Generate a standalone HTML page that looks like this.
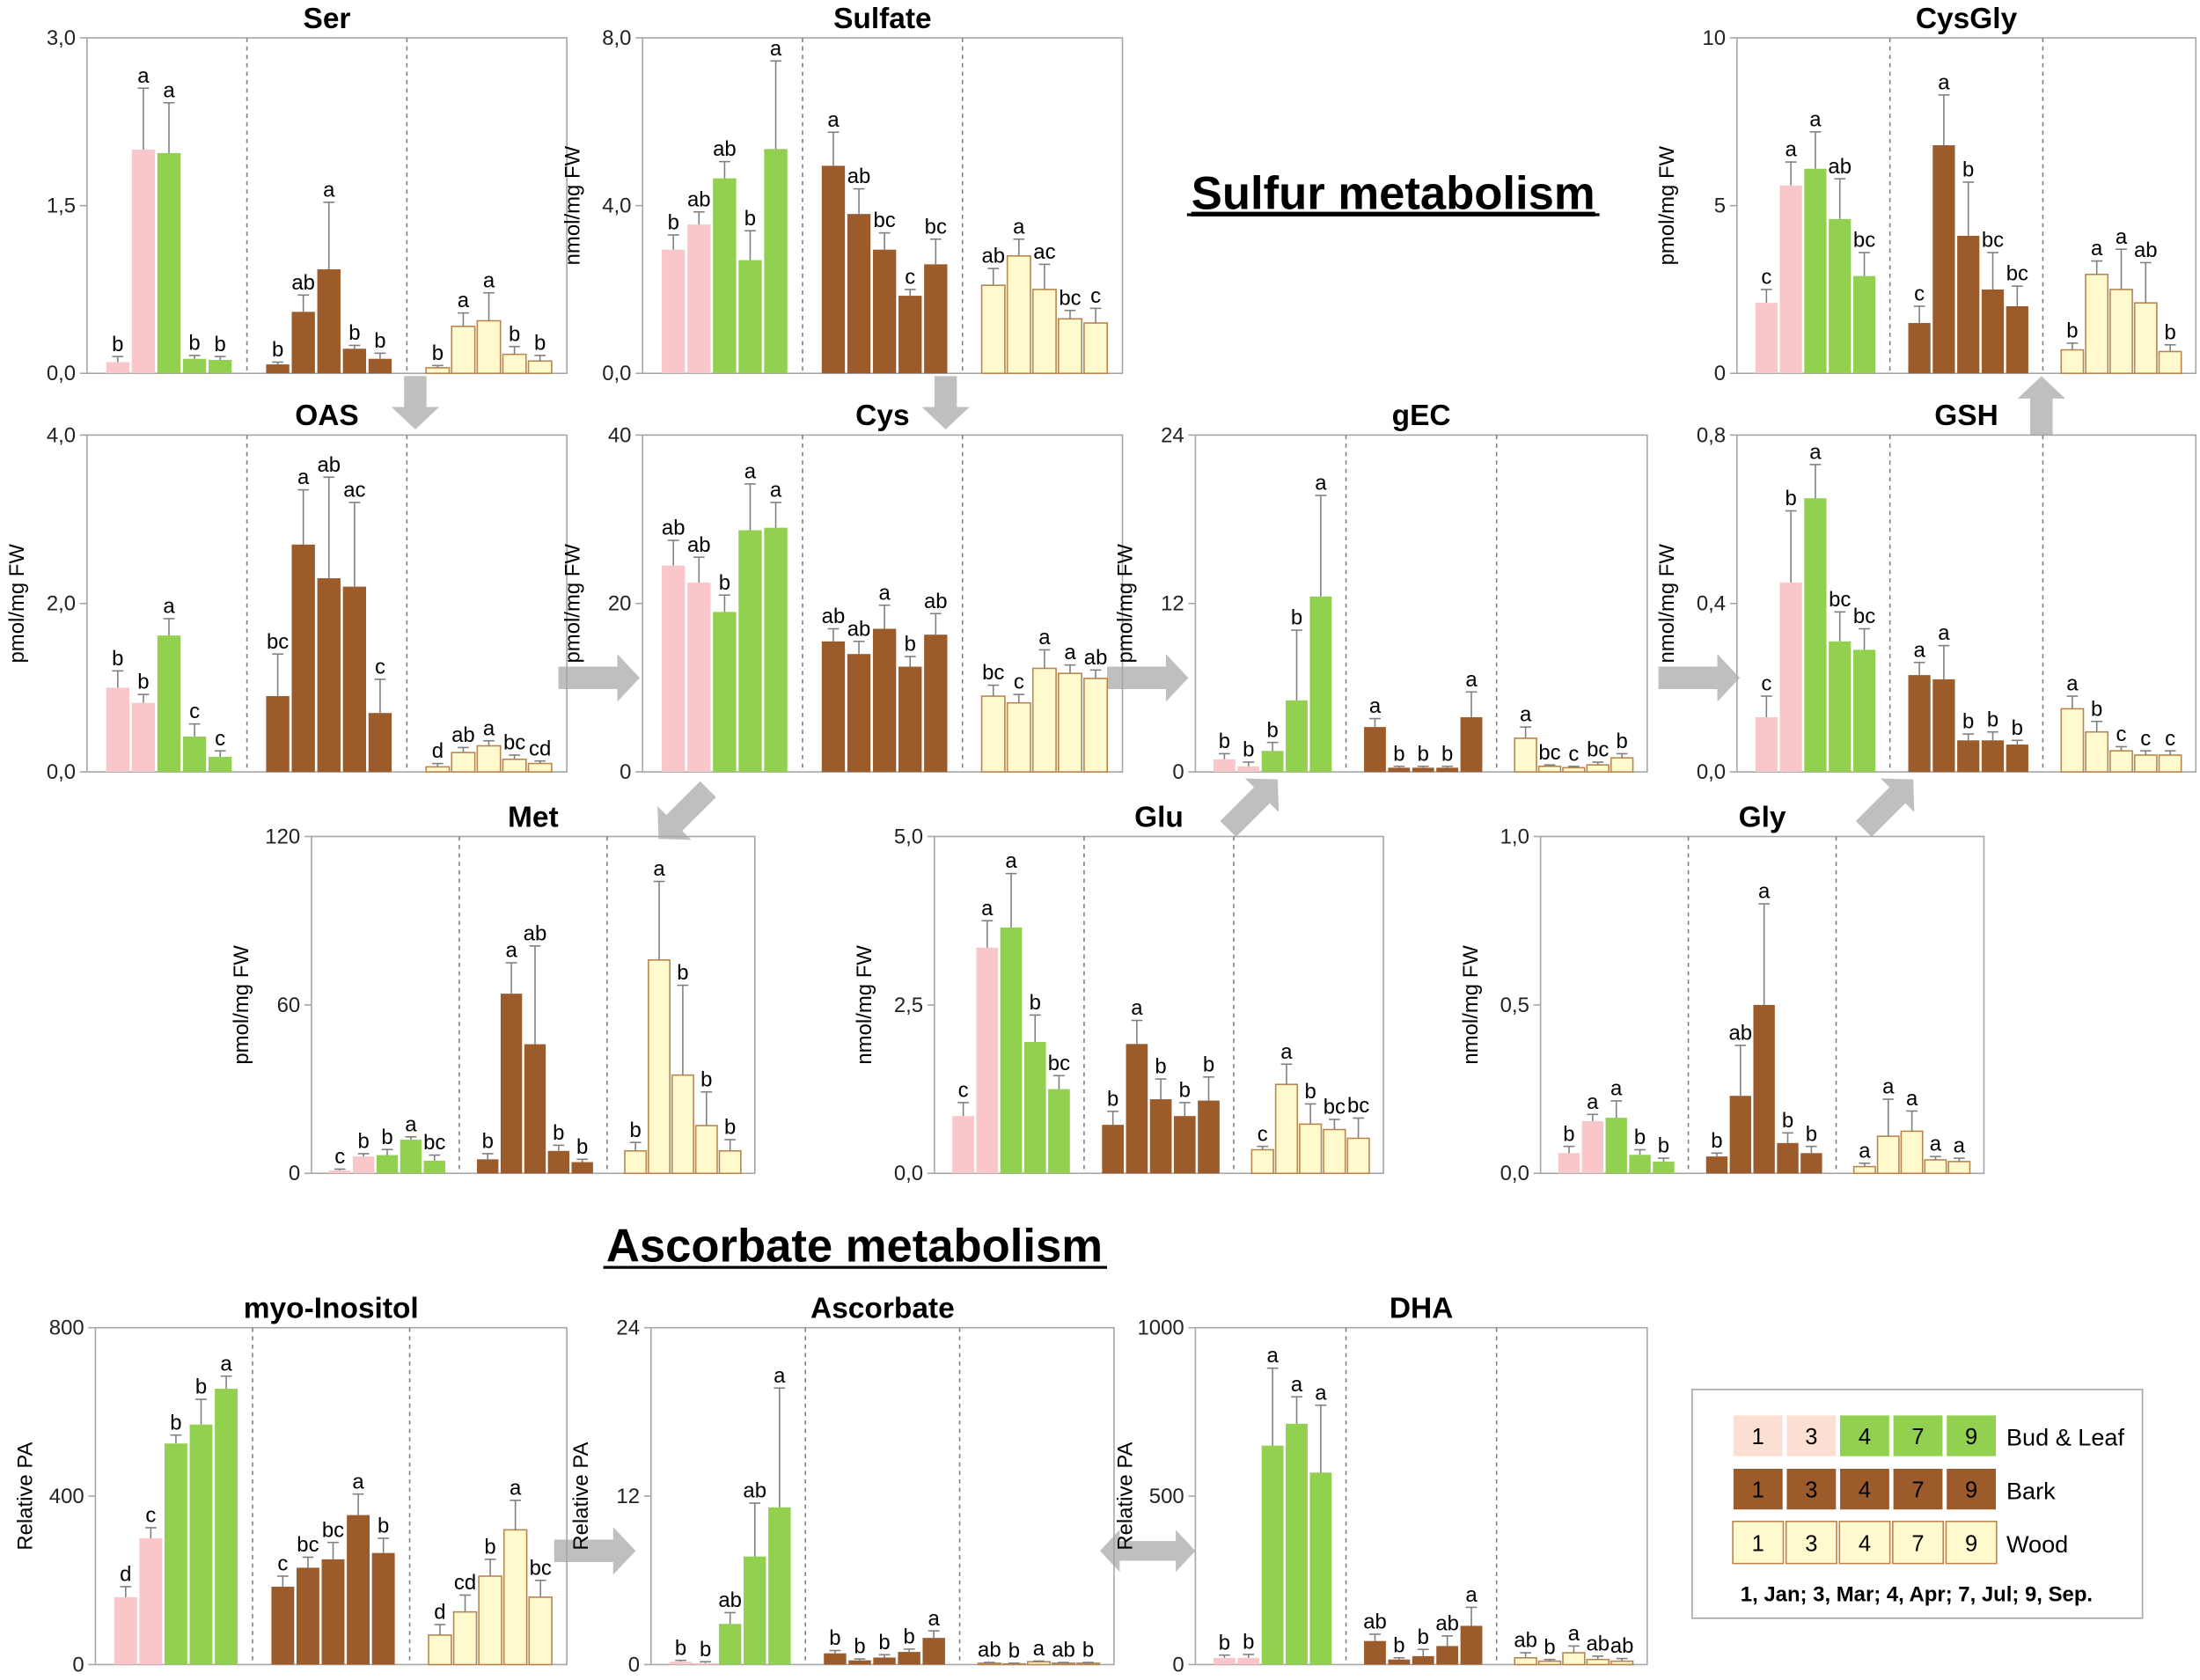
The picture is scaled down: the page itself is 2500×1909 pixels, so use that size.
<!DOCTYPE html>
<html><head><meta charset="utf-8"><style>
body{margin:0;background:#fff}
svg{display:block}
text{font-family:"Liberation Sans",sans-serif}
</style></head><body>
<svg id="c" width="2500" height="1909" viewBox="0 0 1568 1197" preserveAspectRatio="none" xmlns="http://www.w3.org/2000/svg">
<rect width="1568" height="1197" fill="#fff"/>
<text x="993" y="149" font-size="33" font-weight="bold" text-anchor="middle" text-decoration="underline">Sulfur metabolism</text>
<line x1="846" y1="153" x2="1140" y2="153" stroke="#000" stroke-width="2"/>
<text x="609" y="899" font-size="33" font-weight="bold" text-anchor="middle">Ascorbate metabolism</text>
<line x1="430" y1="903" x2="789" y2="903" stroke="#000" stroke-width="2"/>
<g id="arrows" fill="#bfbfbf"></g>
<g id="panels"></g>
<g id="legend">
<rect x="1206" y="990" width="321" height="163" fill="#fff" stroke="#a6a6a6"/>
</g>
</svg>
<script>
const serVals=[0.1,2.0,1.97,0.13,0.12,0.08,0.55,0.93,0.22,0.13,0.05,0.42,0.47,0.17,0.11];
const serErr=[0.05,0.55,0.45,0.03,0.03,0.02,0.15,0.6,0.03,0.05,0.02,0.12,0.25,0.07,0.05];
const serLet=["b","a","a","b","b","b","ab","a","b","b","b","a","a","b","b"];
const sulVals=[2.95,3.55,4.65,2.7,5.35,4.95,3.8,2.95,1.85,2.6,2.1,2.8,2.0,1.3,1.2];
const sulErr=[0.35,0.3,0.4,0.7,2.1,0.8,0.6,0.4,0.15,0.6,0.4,0.4,0.6,0.2,0.35];
const sulLet=["b","ab","ab","b","a","a","ab","bc","c","bc","ab","a","ac","bc","c"];
const cgVals=[2.1,5.6,6.1,4.6,2.9,1.5,6.8,4.1,2.5,2.0,0.7,2.95,2.5,2.1,0.65];
const cgErr=[0.4,0.7,1.1,1.2,0.7,0.5,1.5,1.6,1.1,0.6,0.2,0.4,1.2,1.2,0.2];
const cgLet=["c","a","a","ab","bc","c","a","b","bc","bc","b","a","a","ab","b"];
const oasVals=[1.0,0.82,1.62,0.42,0.18,0.9,2.7,2.3,2.2,0.7,0.06,0.23,0.31,0.15,0.1];
const oasErr=[0.2,0.1,0.2,0.15,0.07,0.5,0.65,1.2,1.0,0.4,0.04,0.06,0.06,0.05,0.03];
const oasLet=["b","b","a","c","c","bc","a","ab","ac","c","d","ab","a","bc","cd"];
const cysVals=[24.5,22.5,19,28.7,29,15.5,14,17,12.5,16.3,9,8.2,12.3,11.7,11.1];
const cysErr=[3,3,2,5.5,3,1.5,1.5,2.8,1.2,2.5,1.3,1,2.2,1,1];
const cysLet=["ab","ab","b","a","a","ab","ab","a","b","ab","bc","c","a","a","ab"];
const gecVals=[0.9,0.4,1.5,5.1,12.5,3.2,0.3,0.3,0.3,3.9,2.4,0.4,0.3,0.5,1.0];
const gecErr=[0.4,0.3,0.6,5,7.2,0.6,0.1,0.1,0.1,1.8,0.8,0.1,0.1,0.2,0.3];
const gecLet=["b","b","b","b","a","a","b","b","b","a","a","bc","c","bc","b"];
const gshVals=[0.13,0.45,0.65,0.31,0.29,0.23,0.22,0.075,0.075,0.065,0.15,0.095,0.05,0.04,0.04];
const gshErr=[0.05,0.17,0.08,0.07,0.05,0.03,0.08,0.015,0.02,0.01,0.03,0.025,0.01,0.01,0.01];
const gshLet=["c","b","a","bc","bc","a","a","b","b","b","a","b","c","c","c"];
const metVals=[1,6,6.5,12,4.5,5,64,46,8,4,8,76,35,17,8];
const metErr=[0.5,1,2,1,2,2,11,35,2,1,3,28,32,12,4];
const metLet=["c","b","b","a","bc","b","a","ab","b","b","b","a","b","b","b"];
const gluVals=[0.85,3.35,3.65,1.95,1.25,0.72,1.92,1.1,0.85,1.08,0.35,1.32,0.73,0.65,0.52];
const gluErr=[0.2,0.4,0.8,0.4,0.2,0.2,0.35,0.3,0.2,0.35,0.05,0.3,0.3,0.15,0.3];
const gluLet=["c","a","a","b","bc","b","a","b","b","b","c","a","b","bc","bc"];
const glyVals=[0.06,0.155,0.165,0.055,0.035,0.05,0.23,0.5,0.09,0.06,0.02,0.11,0.125,0.04,0.035];
const glyErr=[0.02,0.02,0.05,0.015,0.01,0.01,0.15,0.3,0.03,0.02,0.01,0.11,0.06,0.01,0.01];
const glyLet=["b","a","a","b","b","b","ab","a","b","b","a","a","a","a","a"];
const myoVals=[160,300,525,570,655,185,230,250,355,265,70,125,210,320,160];
const myoErr=[25,25,20,60,30,25,25,40,50,35,25,40,40,70,40];
const myoLet=["d","c","b","b","a","c","bc","bc","a","b","d","cd","b","a","bc"];
const ascVals=[0.2,0.1,2.9,7.7,11.2,0.8,0.3,0.5,0.9,1.9,0.1,0.05,0.2,0.1,0.1];
const ascErr=[0.1,0.1,0.8,3.8,8.5,0.2,0.1,0.2,0.2,0.5,0.05,0.05,0.05,0.05,0.05];
const ascLet=["b","b","ab","ab","a","b","b","b","b","a","ab","b","a","ab","b"];
const dhaVals=[20,20,650,715,570,70,15,25,55,115,20,10,35,15,10];
const dhaErr=[8,10,230,80,200,20,5,20,30,55,15,5,20,10,8];
const dhaLet=["b","b","a","a","a","ab","b","b","ab","a","ab","b","a","ab","ab"];

const NS="http://www.w3.org/2000/svg";
function mk(tag,attrs,parent){const e=document.createElementNS(NS,tag);for(const k in attrs)e.setAttribute(k,attrs[k]);parent.appendChild(e);return e;}
function fmt(v,dec){return dec?v.toFixed(1).replace('.',','):String(v);}
const panelsG=document.getElementById('panels');
const fills=["#f9c6c9","#f9c6c9","#92d050","#92d050","#92d050","#9c5b2b","#9c5b2b","#9c5b2b","#9c5b2b","#9c5b2b","#fffacd","#fffacd","#fffacd","#fffacd","#fffacd"];
const strokes=["none","none","none","none","none","none","none","none","none","none","#b8864f","#b8864f","#b8864f","#b8864f","#b8864f"];
function panel(name,title,L,T,R,B,ymax,dec,ylabel,vals,errs,lets){
  const g=mk('g',{},panelsG);
  
  
  const y=v=>B-(v/ymax)*(B-T);
  const box=mk('rect',{x:L,y:T,width:R-L,height:B-T,fill:'none',stroke:'#a6a6a6','stroke-width':1},g);
  
  
  const sw=(R-L)/3;
  for(let s=1;s<3;s++){const d=mk('line',{x1:L+s*sw,x2:L+s*sw,y1:T,y2:B,stroke:'#808080','stroke-dasharray':'3,3','stroke-width':1},g);
    
    }
  [0,ymax/2,ymax].forEach(t=>{
    mk('line',{x1:L-5,x2:L,y1:y(t),y2:y(t),stroke:'#a6a6a6'},g);
    const tx=mk('text',{x:L-8,y:y(t)+5,'font-size':15,'text-anchor':'end',fill:'#222'},g);
    tx.textContent=fmt(t,dec);
    
    
  });
  const tt=mk('text',{x:(L+R)/2,y:T-7,'font-size':21,'font-weight':'bold','text-anchor':'middle'},g);
  tt.textContent=title;
  
  
  if(ylabel){const yl=mk('text',{x:0,y:0,'font-size':15,'text-anchor':'middle',transform:`translate(${L-45},${(T+B)/2}) rotate(-90)`},g);
    yl.textContent=ylabel;
    
    }
  const bw=sw*0.145,pitch=sw*0.16,off=sw*0.12;
  vals.forEach((v,i)=>{
    const s=Math.floor(i/5),k=i%5;
    const x=L+s*sw+off+k*pitch;
    const yt=y(v);
    const b=mk('rect',{x:x,y:yt,width:bw,height:B-yt,fill:fills[i],stroke:strokes[i],'stroke-width':1},g);
    
    
    const ye=y(v+errs[i]);const cx=x+bw/2;
    mk('line',{x1:cx,x2:cx,y1:yt,y2:ye,stroke:'#808080','stroke-width':1},g);
    mk('line',{x1:cx-4,x2:cx+4,y1:ye,y2:ye,stroke:'#808080','stroke-width':1},g);
    const lt=mk('text',{x:cx,y:ye-4,'font-size':15,'text-anchor':'middle'},g);
    lt.textContent=lets[i];
    
    
  });
}
panel('ser','Ser',62,27,404,266,3,true,'',serVals,serErr,serLet);
panel('sulfate','Sulfate',458,27,800,266,8,true,'nmol/mg FW',sulVals,sulErr,sulLet);
panel('cysgly','CysGly',1238,27,1565,266,10,false,'pmol/mg FW',cgVals,cgErr,cgLet);
panel('oas','OAS',62,310,404,550,4,true,'pmol/mg FW',oasVals,oasErr,oasLet);
panel('cys','Cys',458,310,800,550,40,false,'pmol/mg FW',cysVals,cysErr,cysLet);
panel('gec','gEC',852,310,1174,550,24,false,'pmol/mg FW',gecVals,gecErr,gecLet);
panel('gsh','GSH',1238,310,1565,550,0.8,true,'nmol/mg FW',gshVals,gshErr,gshLet);
panel('met','Met',222,596,538,836,120,false,'pmol/mg FW',metVals,metErr,metLet);
panel('glu','Glu',666,596,986,836,5,true,'nmol/mg FW',gluVals,gluErr,gluLet);
panel('gly','Gly',1098,596,1414,836,1,true,'nmol/mg FW',glyVals,glyErr,glyLet);
panel('myo-inositol','myo-Inositol',68,946,404,1186,800,false,'Relative PA',myoVals,myoErr,myoLet);
panel('ascorbate','Ascorbate',464,946,794,1186,24,false,'Relative PA',ascVals,ascErr,ascLet);
panel('dha','DHA',852,946,1174,1186,1000,false,'Relative PA',dhaVals,dhaErr,dhaLet);

// arrows
const ag=document.getElementById('arrows');
function arrow(name,x,y,len,ang,dbl){
  const h=len/2;
  const p=dbl?`M${-h},0 L${-h+14},-15 L${-h+14},-7 L${h-14},-7 L${h-14},-15 L${h},0 L${h-14},15 L${h-14},7 L${-h+14},7 L${-h+14},15 Z`
             :`M${-h},-8 L${h-16},-8 L${h-16},-17 L${h},0 L${h-16},17 L${h-16},8 L${-h},8 Z`;
  const a=mk('path',{d:p,transform:`translate(${x},${y}) rotate(${ang})`},ag);
  
  
}
arrow('arrow-ser-oas',296,287,38,90);
arrow('arrow-sulfate-cys',674,287,38,90);
arrow('arrow-cysgly-gsh',1455,289,42,-90);
arrow('arrow-oas-cys',427,483,58,0);
arrow('arrow-cys-gec',818,483,58,0);
arrow('arrow-gec-gsh',1211,483,58,0);
arrow('arrow-cys-met',487,580,50,135);
arrow('arrow-glu-gec',893,573,50,-45);
arrow('arrow-gly-gsh',1346,573,50,-45);
arrow('arrow-myo-ascorbate',424,1105,58,0);
arrow('arrow-ascorbate-dha',818,1105,68,0,true);

// legend
const lg=document.getElementById('legend');
const legRows=[["#fbdfd3","#fbdfd3","#92d050","#92d050","#92d050"],["#9c5b2b","#9c5b2b","#9c5b2b","#9c5b2b","#9c5b2b"],["#fffacd","#fffacd","#fffacd","#fffacd","#fffacd"]];
const legLabels=["Bud & Leaf","Bark","Wood"];
const months=["1","3","4","7","9"];
legRows.forEach((row,r)=>{
  row.forEach((c,k)=>{
    const sx=1235+k*38,sy=1008+r*38;
    const sq=mk('rect',{x:sx,y:sy,width:36,height:30,fill:c,stroke:r==2?'#b8864f':'#fff','stroke-width':1},lg);
    
    
    const t=mk('text',{x:sx+18,y:sy+21,'font-size':16,'text-anchor':'middle'},lg);
    t.textContent=months[k];
  });
  const lt=mk('text',{x:1430,y:1030+r*38,'font-size':17},lg);
  lt.textContent=legLabels[r];
  
  
});
const ft=mk('text',{x:1366,y:1141,'font-size':15,'font-weight':'bold','text-anchor':'middle'},lg);
ft.textContent='1, Jan; 3, Mar; 4, Apr; 7, Jul; 9, Sep.';


</script>
</body></html>
